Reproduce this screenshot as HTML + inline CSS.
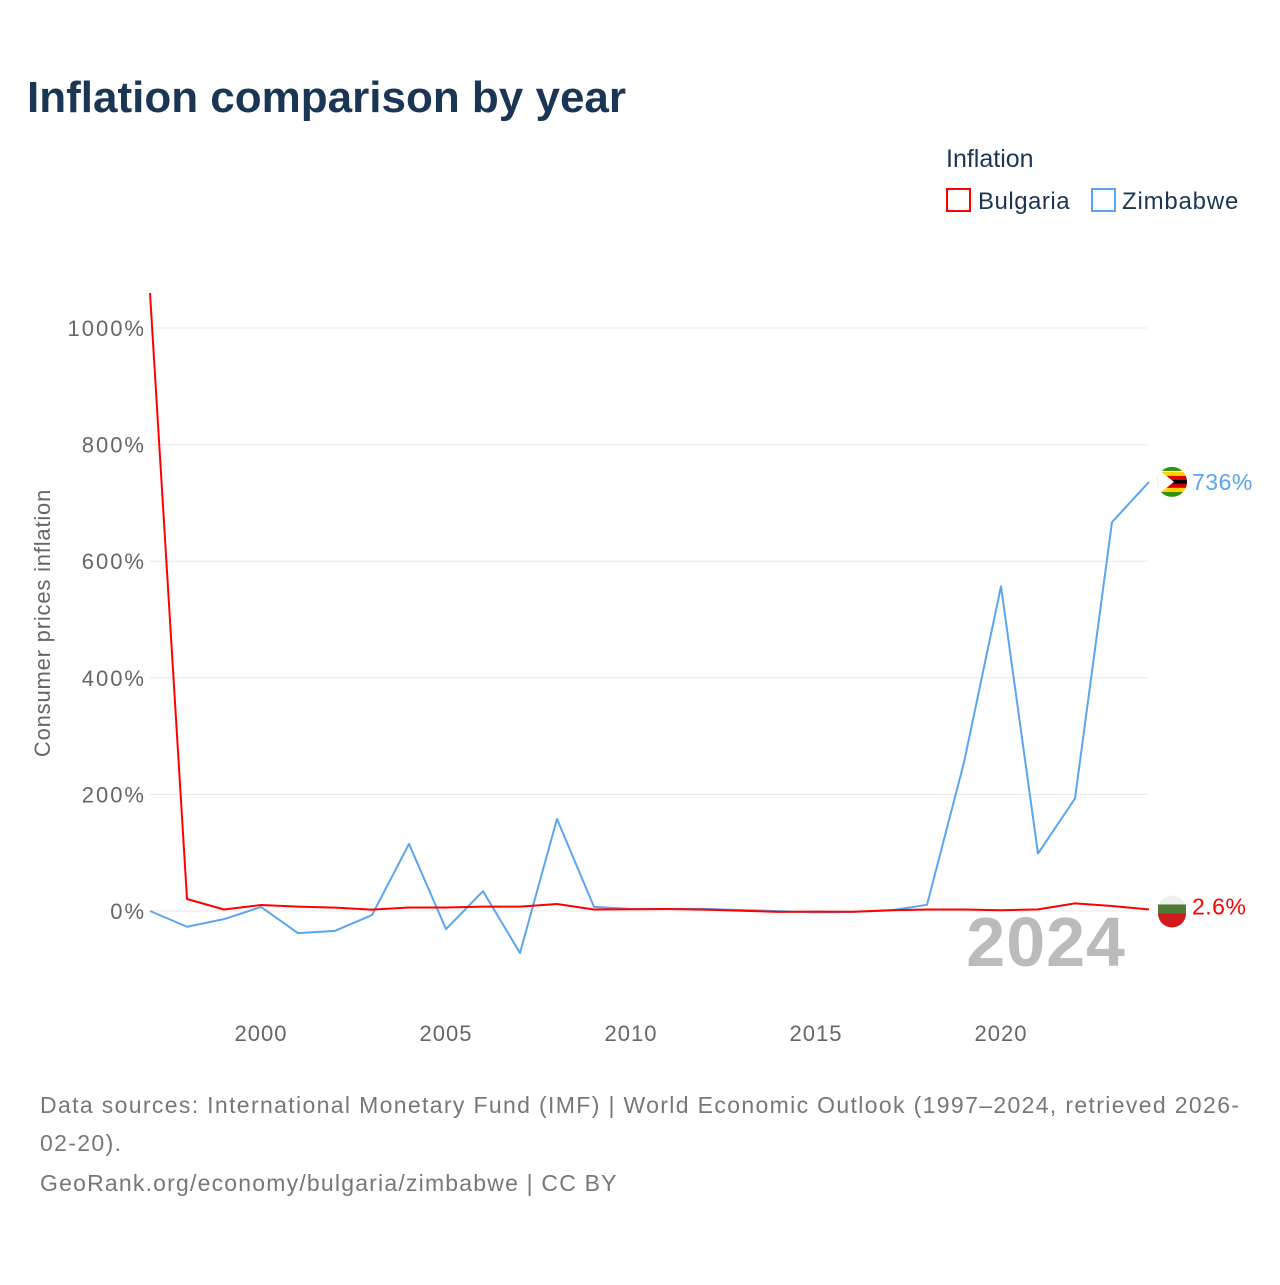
<!DOCTYPE html>
<html><head><meta charset="utf-8"><style>
body{margin:0;width:1280px;height:1280px;background:#fff;font-family:"Liberation Sans",sans-serif;overflow:hidden}
</style></head><body>
<svg id="c" width="1280" height="1280" viewBox="0 0 1280 1280">
<defs><clipPath id="zc"><circle cx="1172" cy="482" r="15"/></clipPath></defs>
<text x="27" y="112" font-size="44" font-weight="bold" fill="#1b3555">Inflation comparison by year</text>
<text x="946" y="167" font-size="25" fill="#1b3555">Inflation</text>
<g><rect x="947" y="189" width="23" height="22" fill="#fff" stroke="#ff0000" stroke-width="2"/><text x="978" y="209" font-size="24" letter-spacing="0.5" fill="#1b3555">Bulgaria</text></g>
<g><rect x="1092" y="189" width="23" height="22" fill="#fff" stroke="#5aa6ee" stroke-width="2"/><text x="1122" y="209" font-size="24" letter-spacing="0.8" fill="#1b3555">Zimbabwe</text></g>
<g id="grid"></g><g id="yt"></g><g id="xt"></g>
<text transform="translate(50,623) rotate(-90)" text-anchor="middle" font-size="22" letter-spacing="0.8" fill="#666">Consumer prices inflation</text>
<text x="1126" y="966" text-anchor="end" font-size="70" font-weight="bold" letter-spacing="1" fill="#bbb">2024</text>
<g id="lines"></g>
<text x="40" y="1113" font-size="23" letter-spacing="1.35" fill="#777">Data sources: International Monetary Fund (IMF) | World Economic Outlook (1997–2024, retrieved 2026-</text>
<text x="40" y="1151" font-size="23" letter-spacing="1.35" fill="#777">02-20).</text>
<text x="40" y="1191" font-size="23" letter-spacing="1.2" fill="#777">GeoRank.org/economy/bulgaria/zimbabwe | CC BY</text>
</svg>
<script>
const years=[1997,1998,1999,2000,2001,2002,2003,2004,2005,2006,2007,2008,2009,2010,2011,2012,2013,2014,2015,2016,2017,2018,2019,2020,2021,2022,2023,2024];
const bulgaria=[1060,20.6,2.6,10.3,7.4,5.8,2.3,6.1,6,7.4,7.6,12,2.5,3,3.4,2.4,0.4,-1.6,-1.1,-1.3,1.2,2.6,2.5,1.2,2.8,13,8.6,2.6];
const zimbabwe=[0,-27,-14,7,-38,-34,-7,115,-31,34,-72,158,7,3.5,3.5,3.7,1.6,-0.2,-2.4,-1.6,0.9,10.6,255,557,98.5,193,667,736];
const yTicks=[0,200,400,600,800,1000];
const xTicks=[2000,2005,2010,2015,2020];
const NS="http://www.w3.org/2000/svg";
const xs=y=>150+(y-1997)*(999/27);
const ys=v=>911-v*0.583;
function mk(t,a,p){const e=document.createElementNS(NS,t);for(const k in a)e.setAttribute(k,a[k]);p.appendChild(e);return e;}
const g=document.getElementById('grid'),yt=document.getElementById('yt'),xt=document.getElementById('xt'),L=document.getElementById('lines');
yTicks.forEach(v=>{
 const l=mk('line',{x1:150,x2:1147,y1:ys(v),y2:ys(v),stroke:'#e8e8e8','stroke-width':1},g);
 
 
 const t=mk('text',{x:146,y:ys(v)+8,'text-anchor':'end','font-size':22,'letter-spacing':2,fill:'#666'},yt);t.textContent=v+'%';
 
 
});
xTicks.forEach(v=>{
 const t=mk('text',{x:xs(v),y:1041,'text-anchor':'middle','font-size':22,'letter-spacing':1,fill:'#666'},xt);t.textContent=v;
 
 
});
function line(d,col,name){
 const p=mk('polyline',{points:d.map((v,i)=>xs(years[i])+','+ys(v)).join(' '),fill:'none',stroke:col,'stroke-width':2,'stroke-linejoin':'round'},L);
 
 
}
line(zimbabwe,'#5aa6ee','zimbabwe-line');
line(bulgaria,'#ff0000','bulgaria-line');
const zl=zimbabwe[zimbabwe.length-1],bl=bulgaria[bulgaria.length-1];
const cy=ys(zl);
const fz=mk('g',{},L);


const zg=mk('g',{transform:`translate(0,${cy-482})`},fz);
const zi=mk('g',{'clip-path':'url(#zc)'},zg);
[['#319208',-15],['#ffd200',-10],['#d40000',-6],['#000',-2],['#d40000',2],['#ffd200',6],['#319208',10]].forEach(s=>mk('rect',{x:1155,y:482+s[1],width:34,height:s[1]==10?6:4,fill:s[0]},zi));
mk('polygon',{points:`1155,467 1174,482 1155,497`,fill:'#fff'},zi);
const lz=mk('text',{x:1192,y:cy+8,'font-size':23,'letter-spacing':0.5,fill:'#5aa6ee'},L);lz.textContent=zl+'%';


const by=ys(bl);
const fb=mk('g',{},L);


mk('circle',{cx:1172,cy:by,r:14,fill:'#eee'},fb);
mk('rect',{x:1158,y:by-5,width:28,height:9,fill:'#4d7a36'},fb);
mk('path',{d:`M1158,${by+4} L1186,${by+4} A14,14 0 0 1 1158,${by+4}Z`,fill:'#d01c1c'},fb);
const lb=mk('text',{x:1192,y:by+5,'font-size':23,'letter-spacing':0.5,fill:'#ff0000'},L);lb.textContent=bl+'%';


</script>
</body></html>
